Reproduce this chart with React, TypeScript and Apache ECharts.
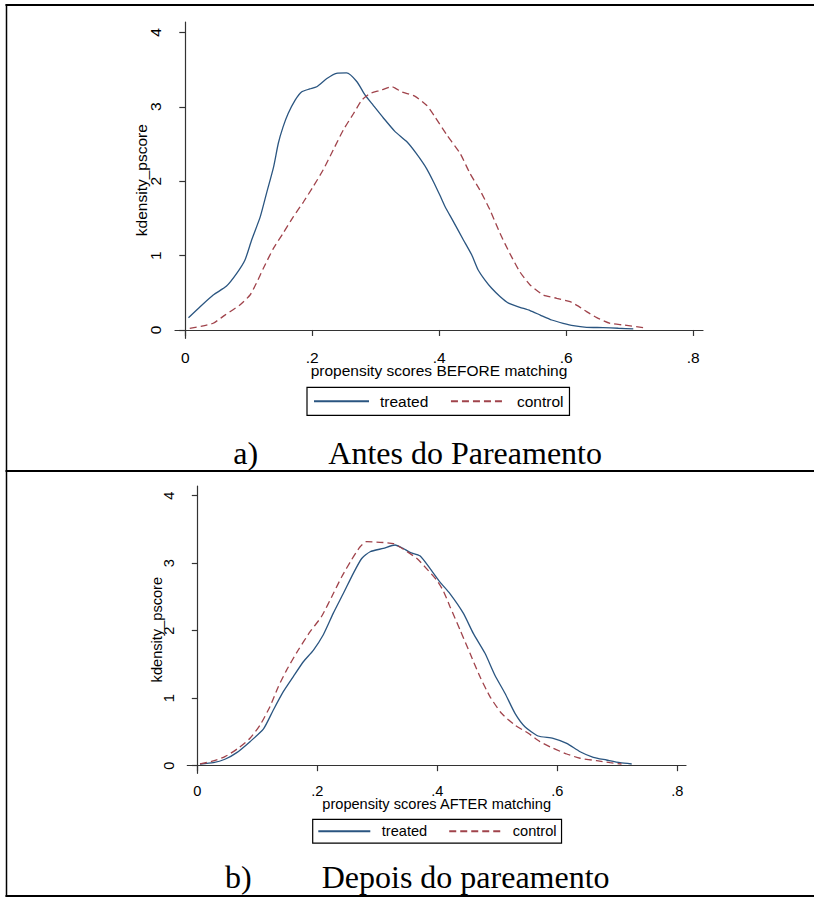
import React, { useEffect, useRef } from "react";
import * as echarts from "echarts";

// ---------- data ----------
const xTicks = [0, 0.2, 0.4, 0.6, 0.8];
const yTicks = [0, 1, 2, 3, 4];
const seriesNames = ["treated", "control"];
const yAxisTitle = "kdensity_pscore";
const xAxisTitles = ["propensity scores BEFORE matching", "propensity scores AFTER matching"];
const captionLetters = ["a)", "b)"];
const captionTexts = ["Antes do Pareamento", "Depois do pareamento"];

const treatedBefore: [number, number][] = [
  [0.005, 0.165], [0.023, 0.31], [0.044, 0.47], [0.065, 0.59], [0.081, 0.76], [0.094, 0.94],
  [0.1045, 1.21], [0.118, 1.52], [0.128, 1.84], [0.139, 2.19], [0.1465, 2.51], [0.154, 2.73],
  [0.162, 2.91], [0.173, 3.09], [0.183, 3.2], [0.196, 3.24], [0.207, 3.27], [0.223, 3.38],
  [0.238, 3.45], [0.254, 3.455], [0.27, 3.34], [0.283, 3.16], [0.296, 3.02], [0.312, 2.85],
  [0.33, 2.67], [0.349, 2.53], [0.364, 2.37], [0.38, 2.17], [0.391, 1.99], [0.401, 1.81],
  [0.409, 1.66], [0.422, 1.46], [0.438, 1.21], [0.451, 1.01], [0.461, 0.81], [0.472, 0.67],
  [0.4825, 0.56], [0.4956, 0.45], [0.509, 0.36], [0.527, 0.305], [0.543, 0.26], [0.559, 0.2],
  [0.577, 0.134], [0.595, 0.09], [0.611, 0.058], [0.632, 0.036], [0.658, 0.032], [0.682, 0.023],
  [0.7055, 0.015],
];

const controlBefore: [number, number][] = [
  [0.007, 0.022], [0.028, 0.054], [0.044, 0.09], [0.0625, 0.2], [0.086, 0.336], [0.102, 0.47],
  [0.112, 0.63], [0.123, 0.83], [0.139, 1.1], [0.154, 1.3], [0.17, 1.52], [0.186, 1.72],
  [0.2016, 1.93], [0.217, 2.15], [0.233, 2.42], [0.249, 2.69], [0.265, 2.91], [0.278, 3.09],
  [0.291, 3.18], [0.307, 3.22], [0.325, 3.27], [0.341, 3.2], [0.362, 3.14], [0.38, 3.02],
  [0.392, 2.88], [0.412, 2.62], [0.433, 2.37], [0.448, 2.11], [0.464, 1.88], [0.48, 1.61],
  [0.4956, 1.3], [0.511, 1.03], [0.527, 0.78], [0.543, 0.605], [0.564, 0.47], [0.585, 0.426],
  [0.606, 0.38], [0.619, 0.32], [0.632, 0.246], [0.648, 0.166], [0.669, 0.09], [0.69, 0.067],
  [0.721, 0.031],
];

const treatedAfter: [number, number][] = [
  [0.0045, 0.025], [0.0267, 0.044], [0.046, 0.095], [0.0657, 0.193], [0.0878, 0.356], [0.11, 0.54],
  [0.1267, 0.825], [0.1433, 1.096], [0.16, 1.32], [0.1767, 1.54], [0.1933, 1.71], [0.21, 1.94],
  [0.2267, 2.26], [0.2433, 2.55], [0.26, 2.85], [0.274, 3.07], [0.288, 3.17], [0.31, 3.22],
  [0.3295, 3.27], [0.343, 3.22], [0.3545, 3.16], [0.371, 3.11], [0.388, 2.92], [0.4045, 2.72],
  [0.421, 2.55], [0.4433, 2.26], [0.46, 1.96], [0.4795, 1.665], [0.496, 1.34], [0.513, 1.07],
  [0.5295, 0.776], [0.546, 0.578], [0.568, 0.44], [0.593, 0.406], [0.6157, 0.33], [0.638, 0.207],
  [0.66, 0.124], [0.682, 0.084], [0.7045, 0.044], [0.724, 0.025],
];

const controlAfter: [number, number][] = [
  [0.0045, 0.025], [0.0267, 0.07], [0.046, 0.133], [0.068, 0.258], [0.0878, 0.406], [0.1045, 0.6],
  [0.121, 0.874], [0.135, 1.17], [0.149, 1.42], [0.168, 1.71], [0.188, 1.985], [0.207, 2.21],
  [0.2267, 2.55], [0.2407, 2.8], [0.257, 3.05], [0.271, 3.24], [0.282, 3.32], [0.3045, 3.31],
  [0.327, 3.29], [0.343, 3.21], [0.366, 3.07], [0.382, 2.92], [0.399, 2.75], [0.41, 2.59],
  [0.421, 2.36], [0.438, 2.01], [0.4545, 1.665], [0.471, 1.32], [0.488, 1.02], [0.507, 0.776],
  [0.5295, 0.6], [0.5517, 0.48], [0.571, 0.356], [0.593, 0.258], [0.6157, 0.173], [0.638, 0.11],
  [0.6657, 0.074], [0.688, 0.044], [0.707, 0.025],
];

// ---------- styling ----------
const SANS = "'Liberation Sans', Arial, sans-serif";
const SERIF = "'Liberation Serif', 'Times New Roman', serif";
const AXIS_COLOR = "#333";
const TREATED_COLOR = "#2a5580";
const CONTROL_COLOR = "#a0434b";
const DASH = [7, 4];

const fmtX = (v: number) => (v === 0 ? "0" : String(+v.toFixed(1)).replace(/^0/, ""));

function panel(i: number, p: any) {
  const axisLineStyle = { color: AXIS_COLOR, width: 1.2 };
  return {
    grid: { left: p.left, top: p.top, width: p.width, height: p.height, containLabel: false },
    xAxis: {
      type: "value",
      gridIndex: i,
      min: p.xmin,
      max: p.xmax,
      splitLine: { show: false },
      axisLine: { show: true, lineStyle: axisLineStyle },
      axisTick: { show: true, length: p.tick, customValues: xTicks, lineStyle: axisLineStyle },
      axisLabel: {
        customValues: xTicks,
        formatter: fmtX,
        margin: p.xLabelMargin,
        fontSize: p.font,
        color: "#000",
        fontFamily: SANS,
      },
      name: xAxisTitles[i],
      nameLocation: "middle",
      nameGap: p.xNameGap,
      nameMoveOverlap: false,
      nameTextStyle: { fontSize: p.font, color: "#000", fontFamily: SANS },
    },
    yAxis: {
      type: "value",
      gridIndex: i,
      min: p.ymin,
      max: p.ymax,
      splitLine: { show: false },
      axisLine: { show: true, lineStyle: axisLineStyle },
      axisTick: { show: true, length: p.tick, customValues: yTicks, lineStyle: axisLineStyle },
      axisLabel: {
        customValues: yTicks,
        rotate: 90,
        margin: p.yLabelMargin,
        fontSize: p.font,
        color: "#000",
        fontFamily: SANS,
      },
      name: yAxisTitle,
      nameLocation: "middle",
      nameRotate: 90,
      nameGap: p.yNameGap,
      nameMoveOverlap: false,
      nameTextStyle: { fontSize: p.font, color: "#000", fontFamily: SANS },
    },
    legend: {
      left: p.legLeft,
      top: p.legTop,
      orient: "horizontal",
      data: seriesNames,
      itemWidth: p.legItemWidth,
      itemHeight: 12,
      itemGap: p.legGap,
      padding: p.legPadding,
      borderColor: "#000",
      borderWidth: 1.2,
      backgroundColor: "#fff",
      selectedMode: false,
      itemStyle: { opacity: 0 },
      textStyle: { fontSize: p.font, color: "#000", fontFamily: SANS, padding: [0, 0, 0, p.legTextPad] },
    },
  };
}

const panels = [
  {
    left: 175, top: 22, width: 528, height: 316.3,
    xmin: -0.0162, xmax: 0.8153, ymin: -0.112, ymax: 4.14,
    tick: 6, font: 15.5, xLabelMargin: 11.4, xNameGap: 24.3, yLabelMargin: 12, yNameGap: 26,
    legLeft: 307, legTop: 387.3, legItemWidth: 55, legGap: 21.7, legPadding: [6, 6, 6, 6], legTextPad: 6,
  },
  {
    left: 187.3, top: 486, width: 498.7, height: 287.3,
    xmin: -0.0167, xmax: 0.8145, ymin: -0.113, ymax: 4.144,
    tick: 5.5, font: 14.6, xLabelMargin: 10.4, xNameGap: 23.6, yLabelMargin: 10.5, yNameGap: 23.3,
    legLeft: 312.7, legTop: 819.3, legItemWidth: 52, legGap: 21, legPadding: [4.4, 5, 4.4, 4.6], legTextPad: 6.5,
  },
];

const captionPos = [
  { letterX: 233.3, textX: 328.3, y: 452.5 },
  { letterX: 225, textX: 321.7, y: 876.5 },
];

export default function App() {
  const ref = useRef<HTMLDivElement>(null);

  useEffect(() => {
    if (!ref.current) return;
    const chart = echarts.init(ref.current, undefined, { renderer: "svg" });
    const parts = panels.map((p, i) => panel(i, p));
    const datasets = [
      [treatedBefore, controlBefore],
      [treatedAfter, controlAfter],
    ];
    const series: any[] = [];
    datasets.forEach((pair, i) => {
      pair.forEach((data, j) => {
        series.push({
          type: "line",
          name: seriesNames[j],
          xAxisIndex: i,
          yAxisIndex: i,
          data,
          symbol: "none",
          smooth: 0.2,
          silent: true,
          color: j === 0 ? TREATED_COLOR : CONTROL_COLOR,
          lineStyle: {
            color: j === 0 ? TREATED_COLOR : CONTROL_COLOR,
            width: 1.3,
            type: j === 0 ? "solid" : DASH,
          },
        });
      });
    });

    const lineStyle = { stroke: "#000", lineWidth: 2 };
    const graphic: any[] = [
      { type: "line", shape: { x1: 5.5, y1: 5, x2: 814, y2: 5 }, style: lineStyle },
      { type: "line", shape: { x1: 6.5, y1: 4, x2: 6.5, y2: 897 }, style: { stroke: "#000", lineWidth: 1.5 } },
      { type: "line", shape: { x1: 5.5, y1: 471, x2: 814, y2: 471 }, style: lineStyle },
      { type: "line", shape: { x1: 5.5, y1: 896, x2: 814, y2: 896 }, style: lineStyle },
    ];
    captionPos.forEach((c, i) => {
      graphic.push({
        type: "text",
        x: c.letterX,
        y: c.y,
        style: { text: captionLetters[i], font: `32px ${SERIF}`, fill: "#000", verticalAlign: "middle" },
      });
      graphic.push({
        type: "text",
        x: c.textX,
        y: c.y,
        style: { text: captionTexts[i], font: `32px ${SERIF}`, fill: "#000", verticalAlign: "middle" },
      });
    });

    chart.setOption({
      animation: false,
      backgroundColor: "#fff",
      grid: parts.map((p) => p.grid),
      xAxis: parts.map((p) => p.xAxis),
      yAxis: parts.map((p) => p.yAxis),
      legend: parts.map((p) => p.legend),
      series,
      graphic,
    });
    return () => chart.dispose();
  }, []);

  return (
    <div
      ref={ref}
      style={{ position: "fixed", left: 0, top: 0, width: 814, height: 898, background: "#fff" }}
    />
  );
}
